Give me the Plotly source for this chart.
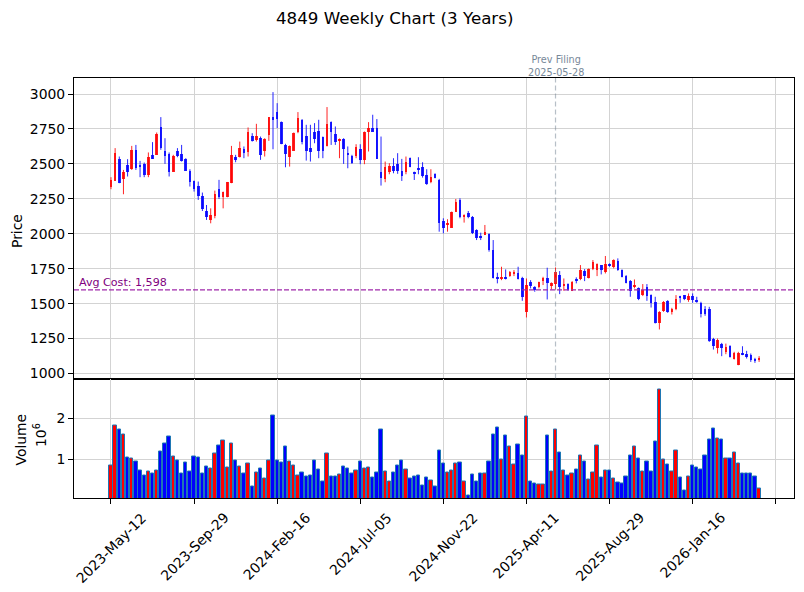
import plotly.graph_objects as go

# ---------------- data ----------------
open_ = [2338, 2381, 2536, 2393, 2493, 2462, 2601, 2493, 2500, 2421,
         2565, 2565, 2763, 2593, 2572, 2445, 2593, 2572, 2536, 2452,
         2378, 2343, 2271, 2163, 2099, 2130, 2321, 2261, 2266, 2362,
         2548, 2546, 2606, 2582, 2701, 2672, 2689, 2589, 2708, 2833,
         2871, 2799, 2636, 2548, 2596, 2727, 2816, 2701, 2613, 2727,
         2737, 2691, 2625, 2799, 2713, 2667, 2679, 2572, 2557, 2560,
         2608, 2529, 2725, 2756, 2756, 2441, 2393, 2445, 2486, 2498,
         2450, 2445, 2541, 2445, 2464, 2476, 2421, 2369, 2429, 2385,
         2092, 2063, 2044, 2159, 2242, 2123, 2151, 2123, 2027, 1979,
         1991, 1998, 1884, 1692, 1673, 1692, 1697, 1712, 1721, 1685,
         1442, 1657, 1621, 1616, 1661, 1680, 1625, 1637, 1704, 1625,
         1640, 1592, 1673, 1676, 1735, 1685, 1747, 1740, 1776, 1723,
         1783, 1759, 1805, 1740, 1697, 1661, 1616, 1609, 1561, 1621,
         1561, 1513, 1363, 1446, 1518, 1437, 1458, 1554, 1561, 1525,
         1554, 1525, 1506, 1458, 1465, 1250, 1179, 1214, 1155, 1195,
         1102, 1064, 1150, 1138, 1131, 1102, 1095]
high = [2405, 2613, 2553, 2457, 2534, 2629, 2636, 2522, 2510, 2582,
        2656, 2725, 2835, 2684, 2582, 2565, 2613, 2636, 2541, 2462,
        2381, 2374, 2295, 2206, 2182, 2309, 2386, 2302, 2371, 2629,
        2565, 2660, 2625, 2761, 2720, 2787, 2696, 2684, 2833, 3014,
        2935, 2804, 2644, 2632, 2725, 2871, 2821, 2780, 2780, 2792,
        2816, 2696, 2907, 2804, 2768, 2682, 2684, 2625, 2565, 2641,
        2641, 2732, 2799, 2852, 2821, 2696, 2517, 2505, 2541, 2577,
        2536, 2553, 2546, 2445, 2548, 2512, 2462, 2462, 2433, 2393,
        2111, 2104, 2159, 2249, 2254, 2139, 2163, 2127, 2032, 2008,
        2063, 2003, 1955, 1721, 1764, 1745, 1733, 1740, 1764, 1692,
        1680, 1668, 1625, 1657, 1692, 1757, 1652, 1759, 1733, 1680,
        1645, 1661, 1688, 1776, 1747, 1752, 1812, 1788, 1776, 1841,
        1788, 1817, 1824, 1745, 1704, 1669, 1673, 1616, 1640, 1640,
        1566, 1549, 1446, 1518, 1525, 1470, 1561, 1556, 1561, 1573,
        1573, 1549, 1513, 1482, 1477, 1255, 1250, 1219, 1214, 1202,
        1155, 1155, 1195, 1162, 1143, 1112, 1124]
low = [2319, 2381, 2362, 2283, 2410, 2457, 2457, 2405, 2405, 2405,
       2536, 2565, 2601, 2500, 2410, 2445, 2548, 2517, 2452, 2338,
       2302, 2242, 2163, 2099, 2075, 2111, 2249, 2182, 2261, 2362,
       2512, 2546, 2541, 2553, 2660, 2660, 2529, 2553, 2665, 2605,
       2756, 2641, 2476, 2481, 2596, 2720, 2640, 2524, 2517, 2648,
       2541, 2541, 2625, 2636, 2636, 2541, 2500, 2469, 2500, 2541,
       2498, 2498, 2589, 2732, 2536, 2345, 2369, 2426, 2433, 2429,
       2378, 2426, 2476, 2385, 2426, 2402, 2350, 2362, 2397, 2015,
       2003, 2015, 2044, 2159, 2111, 2080, 2111, 1998, 1955, 1955,
       1991, 1872, 1680, 1645, 1668, 1673, 1692, 1697, 1673, 1520,
       1401, 1609, 1585, 1609, 1633, 1530, 1601, 1601, 1568, 1592,
       1592, 1590, 1645, 1668, 1661, 1680, 1740, 1697, 1709, 1716,
       1764, 1752, 1735, 1688, 1645, 1549, 1609, 1525, 1554, 1520,
       1472, 1358, 1315, 1441, 1434, 1422, 1453, 1506, 1525, 1513,
       1506, 1506, 1401, 1413, 1226, 1171, 1143, 1124, 1138, 1114,
       1100, 1059, 1131, 1107, 1083, 1076, 1083]
close = [2386, 2577, 2366, 2441, 2445, 2601, 2469, 2476, 2421, 2548,
         2536, 2715, 2617, 2560, 2445, 2560, 2558, 2524, 2452, 2374,
         2321, 2271, 2178, 2123, 2135, 2285, 2261, 2297, 2371, 2565,
         2534, 2613, 2577, 2727, 2667, 2701, 2565, 2677, 2833, 2816,
         2823, 2644, 2572, 2625, 2720, 2828, 2660, 2596, 2584, 2680,
         2589, 2589, 2787, 2727, 2660, 2679, 2605, 2567, 2510, 2620,
         2529, 2727, 2756, 2732, 2536, 2402, 2476, 2486, 2450, 2452,
         2417, 2517, 2481, 2433, 2460, 2417, 2354, 2409, 2402, 2075,
         2039, 2075, 2154, 2225, 2123, 2135, 2118, 2003, 1967, 1974,
         2015, 1884, 1685, 1673, 1692, 1678, 1728, 1728, 1678, 1549,
         1633, 1628, 1601, 1652, 1685, 1649, 1649, 1723, 1616, 1640,
         1601, 1657, 1664, 1740, 1700, 1747, 1800, 1783, 1740, 1783,
         1771, 1812, 1740, 1692, 1649, 1592, 1633, 1530, 1601, 1554,
         1506, 1363, 1441, 1513, 1437, 1465, 1532, 1542, 1532, 1554,
         1525, 1513, 1429, 1425, 1234, 1195, 1238, 1179, 1191, 1119,
         1148, 1150, 1138, 1119, 1095, 1095, 1112]
volume = [860000, 1840000, 1740000, 1610000, 1050000, 1020000, 950000, 730000, 620000, 710000,
          670000, 730000, 1190000, 1390000, 1560000, 1080000, 970000, 670000, 930000, 710000,
          1070000, 1050000, 670000, 830000, 780000, 1150000, 1340000, 1460000, 810000, 1390000,
          970000, 830000, 660000, 900000, 340000, 680000, 780000, 540000, 970000, 2070000,
          970000, 930000, 1320000, 950000, 850000, 620000, 680000, 580000, 620000, 970000,
          760000, 460000, 1150000, 580000, 580000, 630000, 830000, 780000, 660000, 730000,
          950000, 780000, 810000, 560000, 680000, 1730000, 710000, 460000, 680000, 850000,
          970000, 760000, 540000, 580000, 610000, 370000, 560000, 490000, 340000, 1220000,
          900000, 680000, 730000, 900000, 930000, 460000, 120000, 630000, 460000, 660000,
          660000, 950000, 1610000, 1780000, 1000000, 1580000, 1320000, 880000, 1370000, 1100000,
          2050000, 460000, 410000, 390000, 390000, 1580000, 710000, 1730000, 1170000, 730000,
          610000, 660000, 760000, 1100000, 950000, 510000, 680000, 1340000, 560000, 730000,
          730000, 540000, 440000, 410000, 580000, 1100000, 1320000, 1020000, 710000, 950000,
          710000, 1440000, 2710000, 1000000, 880000, 710000, 1220000, 560000, 240000, 580000,
          850000, 810000, 760000, 1100000, 1490000, 1760000, 1510000, 1490000, 1020000, 1020000,
          1170000, 900000, 660000, 660000, 660000, 580000, 290000]

tick_positions = [0, 20, 40, 60, 80, 100, 120, 140, 160]
tick_labels = ["2023-May-12", "2023-Sep-29", "2024-Feb-16", "2024-Jul-05",
               "2024-Nov-22", "2025-Apr-11", "2025-Aug-29", "2026-Jan-16", ""]
price_ticks = [1000, 1250, 1500, 1750, 2000, 2250, 2500, 2750, 3000]
avg_cost = 1598
prev_filing_index = 107
prev_filing_date = "2025-05-28"
title = "4849 Weekly Chart (3 Years)"

# ---------------- derived ----------------
idx = list(range(len(close)))
up = [c >= o for o, c in zip(open_, close)]
UP, DOWN = "red", "blue"
colors = [UP if u else DOWN for u in up]
body_base = [min(o, c) for o, c in zip(open_, close)]
body_h = [max(abs(c - o), 2) for o, c in zip(open_, close)]

def wick_xy(flag):
    xs, ys = [], []
    for i in idx:
        if up[i] == flag:
            xs += [i, i, None]
            ys += [low[i], high[i], None]
    return xs, ys

FONT = "DejaVu Sans"
fig = go.Figure()

for flag, col in [(True, UP), (False, DOWN)]:
    wx, wy = wick_xy(flag)
    fig.add_trace(go.Scatter(x=wx, y=wy, mode="lines", line=dict(color=col, width=1),
                             opacity=0.85, xaxis="x", yaxis="y", showlegend=False, hoverinfo="skip"))

fig.add_trace(go.Bar(x=idx, y=body_h, base=body_base, width=0.62,
                     marker=dict(color=colors, line=dict(width=0)), opacity=0.85,
                     xaxis="x", yaxis="y", showlegend=False))

fig.add_trace(go.Bar(x=idx, y=volume, width=0.8,
                     marker=dict(color=colors, line=dict(color="#1f77b4", width=1)),
                     xaxis="x2", yaxis="y2", showlegend=False))

# layout geometry (plot area: 74..794 x, 78..498 y)
L, T, W, H = 74, 78, 720, 420
VOL_FRAC = 0.2845
def px_x(px):
    return (px - L) / W
def px_y(py):
    return (T + H - py) / H

grid = "#d3d3d3"
common_x = dict(range=[-8.9, 164.4], showline=True, mirror=True, linecolor="black", linewidth=1,
                showgrid=True, gridcolor=grid, gridwidth=1, zeroline=False, automargin=False,
                tickmode="array", tickvals=tick_positions, showticklabels=False)

annotations = [
    dict(text=title, xref="paper", yref="paper", x=px_x(394), y=px_y(18),
         xanchor="center", yanchor="middle", showarrow=False, font=dict(size=16.7)),
    dict(text="Price", xref="paper", yref="paper", x=px_x(17), y=px_y(231),
         xanchor="center", yanchor="middle", textangle=-90, showarrow=False),
    dict(text="Volume", xref="paper", yref="paper", x=px_x(20.5), y=px_y(440),
         xanchor="center", yanchor="middle", textangle=-90, showarrow=False),
    dict(text="10<sup>6</sup>", xref="paper", yref="paper", x=px_x(40), y=px_y(435),
         xanchor="center", yanchor="middle", textangle=-90, showarrow=False),
    dict(text=f"Avg Cost: {avg_cost:,}", xref="paper", yref="y", x=px_x(77), y=avg_cost,
         xanchor="left", yanchor="bottom", showarrow=False, yshift=-1,
         font=dict(size=11.1, color="purple")),
    dict(text=f"Prev Filing<br>{prev_filing_date}", xref="x", yref="paper", x=prev_filing_index,
         y=px_y(65.5), xanchor="center", yanchor="middle", showarrow=False,
         font=dict(size=9.7, color="#778899")),
]
for pos, lab in zip(tick_positions, tick_labels):
    if lab:
        annotations.append(dict(text=lab, xref="x2", yref="paper", x=pos, y=px_y(508),
                                xanchor="center", yanchor="top", textangle=-45,
                                showarrow=False, borderpad=0))

fig.update_layout(
    width=804, height=592,
    margin=dict(l=L, r=804 - L - W, t=T, b=592 - T - H, autoexpand=False),
    paper_bgcolor="white", plot_bgcolor="white",
    barmode="overlay", bargap=0,
    font=dict(family=FONT, size=13.9, color="black"),
    xaxis=dict(domain=[0, 1], anchor="y", ticks="", **common_x),
    xaxis2=dict(domain=[0, 1], anchor="y2", matches="x", ticks="outside",
                ticklen=5, tickwidth=1, tickcolor="black", **common_x),
    yaxis=dict(domain=[VOL_FRAC, 1], anchor="x", range=[964, 3115], tickmode="array",
               tickvals=price_ticks, ticks="outside", ticklen=5, tickwidth=1, tickcolor="black",
               showline=True, mirror=True, linecolor="black", linewidth=1, automargin=False,
               showgrid=True, gridcolor=grid, zeroline=False),
    yaxis2=dict(domain=[0, VOL_FRAC], anchor="x2", range=[63000, 2976000], tickmode="array",
                tickvals=[1000000, 2000000], ticktext=["1", "2"], ticks="outside", ticklen=5,
                tickwidth=1, tickcolor="black", showline=True, mirror=True, linecolor="black",
                linewidth=1, showgrid=True, gridcolor=grid, zeroline=False, automargin=False),
    shapes=[
        dict(type="line", xref="x domain", x0=0, x1=1, yref="y", y0=avg_cost, y1=avg_cost,
             line=dict(color="rgb(160,40,170)", width=1.3, dash="5px,2px"), layer="above"),
        dict(type="line", xref="x", x0=prev_filing_index, x1=prev_filing_index,
             yref="y domain", y0=0, y1=1,
             line=dict(color="rgba(112,128,144,0.5)", width=1.2, dash="5px,3px"), layer="above"),
    ],
    annotations=annotations,
)

fig.write_html("out.html")
